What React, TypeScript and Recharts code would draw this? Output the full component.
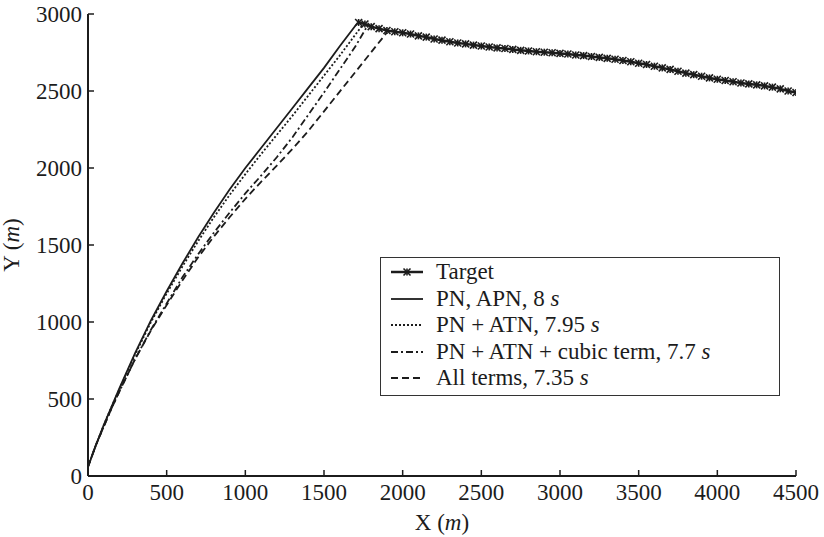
import React from 'react';
import { LineChart, Line, XAxis, YAxis, Legend } from 'recharts';

// Axis ticks
const xTicks = [0, 500, 1000, 1500, 2000, 2500, 3000, 3500, 4000, 4500];
const yTicks = [0, 500, 1000, 1500, 2000, 2500, 3000];

// Target track (m)
const targetX = [1720, 1760, 1800, 1850, 1900, 1950, 2000, 2050, 2100, 2150, 2200, 2250, 2300, 2350, 2400, 2450, 2500, 2550, 2600, 2650, 2700, 2750, 2800, 2850, 2900, 2950, 3000, 3050, 3100, 3150, 3200, 3250, 3300, 3350, 3400, 3450, 3500, 3550, 3600, 3650, 3700, 3750, 3800, 3850, 3900, 3950, 4000, 4050, 4100, 4150, 4200, 4250, 4300, 4350, 4400, 4450, 4500];
const targetY = [2945, 2935, 2918, 2905, 2893, 2885, 2878, 2870, 2858, 2850, 2838, 2830, 2820, 2812, 2806, 2798, 2792, 2786, 2780, 2776, 2770, 2764, 2760, 2755, 2752, 2748, 2744, 2740, 2734, 2730, 2724, 2718, 2712, 2706, 2698, 2690, 2680, 2672, 2661, 2650, 2640, 2628, 2616, 2606, 2596, 2585, 2576, 2568, 2560, 2552, 2546, 2540, 2533, 2525, 2514, 2500, 2490];

// PN, APN
const pnX = [0, 50, 100, 150, 200, 300, 400, 500, 600, 700, 800, 900, 1000, 1100, 1200, 1300, 1400, 1500, 1600, 1715];
const pnY = [60, 200, 330, 450, 570, 800, 1010, 1200, 1380, 1550, 1710, 1860, 2000, 2130, 2260, 2390, 2520, 2650, 2790, 2945];

// PN + ATN
const atnX = [0, 50, 100, 150, 200, 300, 400, 500, 600, 700, 800, 900, 1000, 1100, 1200, 1300, 1400, 1500, 1600, 1750];
const atnY = [60, 200, 330, 450, 565, 790, 1000, 1185, 1360, 1525, 1680, 1825, 1960, 2090, 2215, 2340, 2470, 2600, 2730, 2935];

// PN + ATN + cubic term
const cubicX = [0, 50, 100, 150, 200, 300, 400, 500, 600, 700, 800, 900, 1000, 1100, 1200, 1300, 1400, 1500, 1600, 1700, 1780];
const cubicY = [60, 200, 320, 440, 550, 760, 950, 1120, 1290, 1440, 1580, 1710, 1835, 1950, 2070, 2200, 2345, 2490, 2640, 2790, 2930];

// All terms
const allX = [0, 50, 100, 150, 200, 300, 400, 500, 600, 700, 800, 900, 1000, 1100, 1200, 1300, 1400, 1500, 1600, 1700, 1800, 1900];
const allY = [60, 200, 320, 440, 550, 760, 945, 1110, 1270, 1420, 1555, 1680, 1800, 1910, 2015, 2125, 2240, 2368, 2496, 2624, 2752, 2880];

const seriesNames = ['Target', 'PN, APN, 8', 'PN + ATN, 7.95', 'PN + ATN + cubic term, 7.7', 'All terms, 7.35'];
const seriesDash = ['', '', '2 2', '7 3 2 3', '7 4'];

const toPoints = (xs: number[], ys: number[]) => xs.map((x, i) => ({ x, y: ys[i] }));

const targetData = toPoints(targetX, targetY);
const pnData = toPoints(pnX, pnY);
const atnData = toPoints(atnX, atnY);
const cubicData = toPoints(cubicX, cubicY);
const allData = toPoints(allX, allY);

const INK = '#1c1c1c';
const FONT = '"Liberation Serif", "DejaVu Serif", serif';
const FS = 23;

const CrossDot = (props: any) => {
  const { cx, cy } = props;
  if (cx == null || cy == null) return null;
  const s = 3.5;
  return (
    <g stroke={INK} strokeWidth={1.6}>
      <line x1={cx - s} y1={cy - s} x2={cx + s} y2={cy + s} />
      <line x1={cx - s} y1={cy + s} x2={cx + s} y2={cy - s} />
      <line x1={cx} y1={cy - s} x2={cx} y2={cy + s} />
    </g>
  );
};

const XTitle = (props: any) => {
  const vb = props.viewBox || {};
  return (
    <text x={vb.x + vb.width / 2} y={vb.y + 54} textAnchor="middle" fontFamily={FONT} fontSize={FS} fill={INK}>
      X (<tspan fontStyle="italic">m</tspan>)
    </text>
  );
};

const YTitle = () => (
  <text x={0} y={0} transform="translate(19,245) rotate(-90)" textAnchor="middle" fontFamily={FONT} fontSize={FS} fill={INK}>
    Y (<tspan fontStyle="italic">m</tspan>)
  </text>
);

const LegendBox = () => (
  <div
    style={{
      border: '1.5px solid #333',
      background: '#fff',
      padding: '1px 8px 3px 8px',
      fontFamily: FONT,
      fontSize: FS,
      color: INK,
      lineHeight: '26.5px',
      width: 400,
      boxSizing: 'border-box',
    }}
  >
    {seriesNames.map((name, i) => (
      <div key={name} style={{ display: 'flex', alignItems: 'center', whiteSpace: 'nowrap' }}>
        <svg width={36} height={14} style={{ marginRight: 11 }}>
          <line x1={2} y1={7} x2={34} y2={7} stroke={INK} strokeWidth={i === 0 ? 2.5 : 1.8} strokeDasharray={seriesDash[i] || undefined} />
          {i === 0 ? <CrossDot cx={18} cy={7} /> : null}
        </svg>
        <span>
          {name}
          {i > 0 ? (
            <>
              {' '}
              <i>s</i>
            </>
          ) : null}
        </span>
      </div>
    ))}
  </div>
);

const tickStyle = { fontFamily: FONT, fontSize: FS, fill: INK };

export default function App() {
  return (
    <div style={{ position: 'absolute', left: 0, top: 0, background: '#fff' }}>
      <LineChart width={824} height={537} margin={{ top: 14, right: 28, bottom: 0, left: 18 }}>
        <XAxis
          xAxisId="b"
          type="number"
          dataKey="x"
          domain={[0, 4500]}
          ticks={xTicks}
          interval={0}
          allowDataOverflow
          height={61}
          tickSize={-6}
          tickMargin={14}
          tick={tickStyle}
          axisLine={{ stroke: INK, strokeWidth: 2 }}
          tickLine={{ stroke: INK, strokeWidth: 1.5 }}
          label={<XTitle />}
        />
        <XAxis
          xAxisId="t"
          orientation="top"
          type="number"
          dataKey="x"
          domain={[0, 4500]}
          ticks={xTicks}
          interval={0}
          allowDataOverflow
          height={0}
          tickSize={-6}
          tick={false}
          axisLine={{ stroke: INK, strokeWidth: 2 }}
          tickLine={{ stroke: INK, strokeWidth: 1.5 }}
        />
        <YAxis
          yAxisId="l"
          type="number"
          dataKey="y"
          domain={[0, 3000]}
          ticks={yTicks}
          interval={0}
          allowDataOverflow
          width={70}
          tickSize={-6}
          tickMargin={12}
          tick={tickStyle}
          axisLine={{ stroke: INK, strokeWidth: 2 }}
          tickLine={{ stroke: INK, strokeWidth: 1.5 }}
          label={<YTitle />}
        />
        <YAxis
          yAxisId="r"
          orientation="right"
          type="number"
          dataKey="y"
          domain={[0, 3000]}
          ticks={yTicks}
          interval={0}
          allowDataOverflow
          width={0}
          tickSize={-6}
          tick={false}
          axisLine={{ stroke: '#c8c8c8', strokeWidth: 2 }}
          tickLine={{ stroke: '#c8c8c8', strokeWidth: 1.5 }}
        />
        <Line xAxisId="b" yAxisId="l" data={allData} dataKey="y" type="linear" stroke={INK} strokeWidth={1.8} strokeDasharray="7 4" dot={false} isAnimationActive={false} name="all" />
        <Line xAxisId="b" yAxisId="l" data={cubicData} dataKey="y" type="linear" stroke={INK} strokeWidth={1.8} strokeDasharray="7 3 2 3" dot={false} isAnimationActive={false} name="cubic" />
        <Line xAxisId="b" yAxisId="l" data={atnData} dataKey="y" type="linear" stroke={INK} strokeWidth={1.8} strokeDasharray="2 2" dot={false} isAnimationActive={false} name="atn" />
        <Line xAxisId="b" yAxisId="l" data={pnData} dataKey="y" type="linear" stroke={INK} strokeWidth={1.8} dot={false} isAnimationActive={false} name="pn" />
        <Line xAxisId="b" yAxisId="l" data={targetData} dataKey="y" type="linear" stroke={INK} strokeWidth={2.5} dot={<CrossDot />} isAnimationActive={false} name="target" />
        <Legend
          layout="vertical"
          align="center"
          verticalAlign="middle"
          content={<LegendBox />}
          wrapperStyle={{ left: 380, top: 257, width: 400 }}
        />
      </LineChart>
    </div>
  );
}
